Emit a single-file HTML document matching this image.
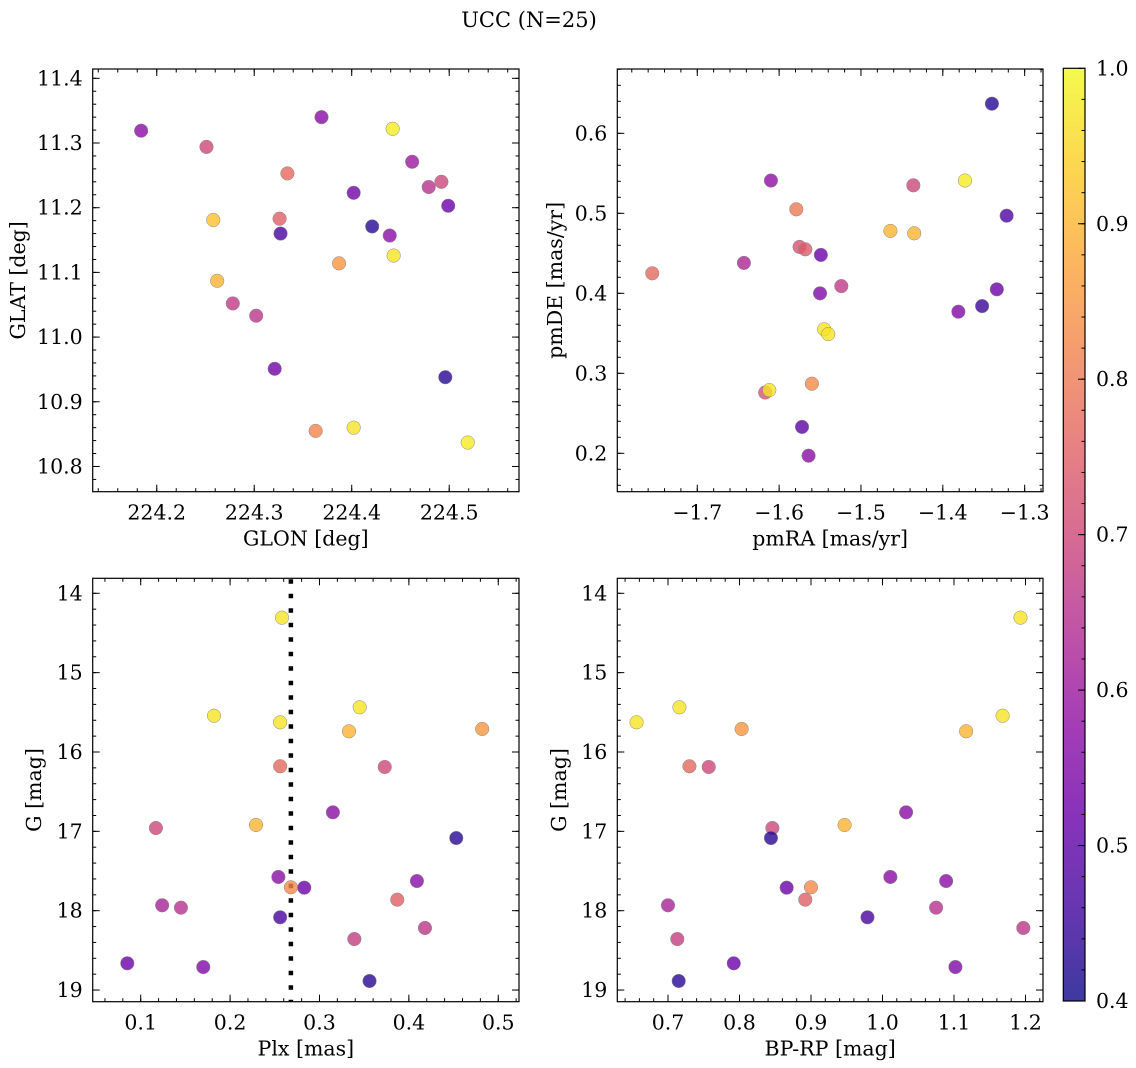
<!DOCTYPE html>
<html><head><meta charset="utf-8"><style>
html,body{margin:0;padding:0;background:#fff;}
svg{display:block;font-family:"DejaVu Serif","Liberation Serif",serif;}
</style></head><body>
<svg id="fig" width="1136" height="1068" viewBox="0 0 1136 1068" xmlns="http://www.w3.org/2000/svg">
<defs>
<linearGradient id="plasmaGrad" x1="0" y1="1" x2="0" y2="0">
<stop offset="0" stop-color="#0d0887"/><stop offset="0.1" stop-color="#41049d"/><stop offset="0.2" stop-color="#6a00a8"/><stop offset="0.3" stop-color="#8f0da4"/><stop offset="0.4" stop-color="#b12a90"/><stop offset="0.5" stop-color="#cc4778"/><stop offset="0.6" stop-color="#e16462"/><stop offset="0.7" stop-color="#f2844b"/><stop offset="0.8" stop-color="#fca636"/><stop offset="0.9" stop-color="#fcce25"/><stop offset="1" stop-color="#f0f921"/>
</linearGradient>
</defs>
<text x="529" y="27" font-size="21" text-anchor="middle">UCC (N=25)</text>
</svg>
<script>
// ---- Data ----
const glon = [224.184,224.251,224.369,224.442,224.462,224.334,224.492,224.479,224.402,224.499,224.258,224.326,224.327,224.421,224.439,224.387,224.443,224.262,224.278,224.302,224.321,224.496,224.363,224.402,224.519];
const glat = [11.319,11.294,11.340,11.322,11.271,11.253,11.240,11.232,11.223,11.203,11.181,11.183,11.160,11.171,11.157,11.114,11.126,11.087,11.052,11.033,10.951,10.938,10.855,10.860,10.837];
const colGal = [0.57,0.70,0.57,0.98,0.60,0.77,0.70,0.65,0.53,0.52,0.92,0.75,0.47,0.43,0.57,0.85,0.97,0.90,0.67,0.66,0.53,0.43,0.82,0.97,0.98];

const pmra = [-1.340,-1.610,-1.436,-1.373,-1.579,-1.322,-1.464,-1.435,-1.575,-1.568,-1.549,-1.643,-1.755,-1.524,-1.550,-1.334,-1.352,-1.381,-1.545,-1.540,-1.560,-1.617,-1.612,-1.572,-1.564];
const pmde = [0.637,0.541,0.535,0.541,0.505,0.497,0.478,0.475,0.458,0.455,0.448,0.438,0.425,0.409,0.400,0.405,0.384,0.377,0.355,0.349,0.287,0.276,0.279,0.233,0.197];
const colPm = [0.43,0.58,0.70,0.98,0.80,0.48,0.90,0.90,0.72,0.74,0.52,0.63,0.77,0.67,0.55,0.52,0.45,0.55,0.97,0.97,0.83,0.72,0.97,0.50,0.57];

const plx = [0.258,0.182,0.256,0.345,0.333,0.482,0.256,0.373,0.315,0.117,0.229,0.453,0.254,0.268,0.283,0.409,0.124,0.145,0.387,0.256,0.418,0.339,0.085,0.170,0.356];
const gPlx = [14.307,15.543,15.626,15.437,15.739,15.710,16.180,16.189,16.760,16.958,16.920,17.084,17.575,17.705,17.710,17.626,17.932,17.962,17.861,18.083,18.218,18.357,18.663,18.710,18.886];
const colPlx = [0.97,0.97,0.97,0.97,0.90,0.85,0.77,0.70,0.57,0.70,0.90,0.43,0.57,0.83,0.52,0.57,0.62,0.65,0.75,0.47,0.66,0.68,0.52,0.55,0.43];
const plxLine = [0.268];

const bprp = [1.193,0.656,0.716,0.803,1.168,1.117,0.730,0.757,1.033,0.846,0.947,0.844,1.011,0.866,0.900,1.089,0.700,1.075,0.892,0.979,1.197,0.713,0.792,1.102,0.715];
const gCmd = [14.307,15.626,15.437,15.710,15.543,15.739,16.180,16.189,16.760,16.958,16.920,17.084,17.575,17.710,17.705,17.626,17.932,17.962,17.861,18.083,18.218,18.357,18.663,18.710,18.886];
const colCmd = [0.97,0.97,0.97,0.85,0.97,0.90,0.77,0.70,0.57,0.70,0.90,0.43,0.57,0.52,0.83,0.57,0.62,0.65,0.75,0.47,0.66,0.68,0.52,0.55,0.43];

const xTicks1 = ["224.2","224.3","224.4","224.5"];
const yTicks1 = ["10.8","10.9","11.0","11.1","11.2","11.3","11.4"];
const xTicks2 = ["\u22121.7","\u22121.6","\u22121.5","\u22121.4","\u22121.3"];
const yTicks2 = ["0.2","0.3","0.4","0.5","0.6"];
const xTicks3 = ["0.1","0.2","0.3","0.4","0.5"];
const yTicksG = ["14","15","16","17","18","19"];
const xTicks4 = ["0.7","0.8","0.9","1.0","1.1","1.2"];
const cbTicks = ["0.4","0.5","0.6","0.7","0.8","0.9","1.0"];

// ---- Helpers ----
const NS = "http://www.w3.org/2000/svg";
const svg = document.getElementById('fig');
const FS = 20.5;
function mk(tag, attrs, parent){ const e=document.createElementNS(NS,tag); for(const k in attrs) e.setAttribute(k,attrs[k]); (parent||svg).appendChild(e); return e; }
const stops=[[13,8,135],[65,4,157],[106,0,168],[143,13,164],[177,42,144],[204,71,120],[225,100,98],[242,132,75],[252,166,54],[252,206,37],[240,249,33]];
function plasma(t){ t=Math.max(0,Math.min(1,t)); const f=t*10; const i=Math.min(9,Math.floor(f)); const r=f-i; const a=stops[i],b=stops[i+1];
  return 'rgb('+a.map((v,k)=>Math.round(v+(b[k]-v)*r)).join(',')+')'; }
const VMIN=0.4, VMAX=1.0;

function panel(cfg){
  const g = mk('g',{});
  
  
  const {x0,x1,y0,y1,xmin,xmax,ymin,ymax,invY} = cfg;
  const sx = v => x0 + (v-xmin)/(xmax-xmin)*(x1-x0);
  const sy = v => invY ? y0 + (v-ymin)/(ymax-ymin)*(y1-y0) : y1 - (v-ymin)/(ymax-ymin)*(y1-y0);
  const tg = mk('g',{stroke:'#000','stroke-width':1},g);
  function ticksX(start,step,n,len){ for(let i=0;i<n;i++){ const v=start+i*step; if(v<xmin-1e-9||v>xmax+1e-9) continue; const x=sx(v);
      mk('line',{x1:x,x2:x,y1:y1,y2:y1-len},tg); mk('line',{x1:x,x2:x,y1:y0,y2:y0+len},tg);} }
  function ticksY(start,step,n,len){ for(let i=0;i<n;i++){ const v=start+i*step; if(v<Math.min(ymin,ymax)-1e-9||v>Math.max(ymin,ymax)+1e-9) continue; const y=sy(v);
      mk('line',{x1:x0,x2:x0+len,y1:y,y2:y},tg); mk('line',{x1:x1,x2:x1-len,y1:y,y2:y},tg);} }
  ticksX(cfg.xMinorStart,cfg.xMinor,200,3.5);
  ticksY(cfg.yMinorStart,cfg.yMinor,200,3.5);
  cfg.xLabels.forEach((lab,i)=>{ const v=cfg.xMajorStart+i*cfg.xMajor; const x=sx(v);
    mk('line',{x1:x,x2:x,y1:y1,y2:y1-7},tg); mk('line',{x1:x,x2:x,y1:y0,y2:y0+7},tg);
    const t=mk('text',{x:x,y:y1+28,'font-size':FS,'text-anchor':'middle'},g); t.textContent=lab;
      });
  cfg.yLabels.forEach((lab,i)=>{ const v=cfg.yMajorStart+i*cfg.yMajor; const y=sy(v);
    mk('line',{x1:x0,x2:x0+7,y1:y,y2:y},tg); mk('line',{x1:x1,x2:x1-7,y1:y,y2:y},tg);
    const t=mk('text',{x:x0-10,y:y+7,'font-size':FS,'text-anchor':'end'},g); t.textContent=lab;
      });
  if(cfg.vline){ cfg.vline.forEach(v=>{ const l=mk('line',{x1:sx(v),x2:sx(v),y1:y0+1,y2:y1,stroke:'#000','stroke-width':4.5,'stroke-dasharray':'4.5 10'},g);
      }); }
  cfg.xs.forEach((xv,i)=>{ const c=mk('circle',{cx:sx(xv),cy:sy(cfg.ys[i]),r:6.8,fill:plasma((cfg.cs[i]-VMIN)/(VMAX-VMIN)),'fill-opacity':0.8,stroke:'#888','stroke-width':0.5},g);
      });
  const f=mk('rect',{x:x0,y:y0,width:x1-x0,height:y1-y0,fill:'none',stroke:'#000','stroke-width':1.2},g);
   
  const xl=mk('text',{x:(x0+x1)/2,y:y1+54,'font-size':FS,'text-anchor':'middle'},g); xl.textContent=cfg.xTitle;
   
  const yl=mk('text',{x:cfg.yTitleX,y:(y0+y1)/2,'font-size':FS,'text-anchor':'middle',transform:'rotate(-90 '+cfg.yTitleX+' '+(y0+y1)/2+')'},g); yl.textContent=cfg.yTitle;
   
}

panel({name:'glon-glat-panel',x0:92.7,x1:519,y0:69,y1:491.7,xmin:224.1343,xmax:224.5716,ymin:10.761,ymax:11.4144,invY:false,
  xMajorStart:224.2,xMajor:0.1,xMinorStart:224.14,xMinor:0.02,yMajorStart:10.8,yMajor:0.1,yMinorStart:10.76,yMinor:0.02,
  xLabels:xTicks1,yLabels:yTicks1,xs:glon,ys:glat,cs:colGal,xTitle:'GLON [deg]',yTitle:'GLAT [deg]',yTitleX:25});
panel({name:'pm-panel',x0:617.3,x1:1043,y0:69,y1:491.7,xmin:-1.7977,xmax:-1.2776,ymin:0.152,ymax:0.6804,invY:false,
  xMajorStart:-1.7,xMajor:0.1,xMinorStart:-1.78,xMinor:0.02,yMajorStart:0.2,yMajor:0.1,yMinorStart:0.16,yMinor:0.02,
  xLabels:xTicks2,yLabels:yTicks2,xs:pmra,ys:pmde,cs:colPm,xTitle:'pmRA [mas/yr]',yTitle:'pmDE [mas/yr]',yTitleX:562});
panel({name:'plx-g-panel',x0:92.7,x1:519,y0:578.3,y1:1001.7,xmin:0.0463,xmax:0.5232,ymin:13.811,ymax:19.147,invY:true,
  xMajorStart:0.1,xMajor:0.1,xMinorStart:0.06,xMinor:0.02,yMajorStart:14,yMajor:1,yMinorStart:13.8,yMinor:0.2,
  xLabels:xTicks3,yLabels:yTicksG,xs:plx,ys:gPlx,cs:colPlx,vline:plxLine,xTitle:'Plx [mas]',yTitle:'G [mag]',yTitleX:41});
panel({name:'cmd-panel',x0:617.3,x1:1043,y0:578.3,y1:1001.7,xmin:0.6291,xmax:1.2245,ymin:13.811,ymax:19.147,invY:true,
  xMajorStart:0.7,xMajor:0.1,xMinorStart:0.64,xMinor:0.02,yMajorStart:14,yMajor:1,yMinorStart:13.8,yMinor:0.2,
  xLabels:xTicks4,yLabels:yTicksG,xs:bprp,ys:gCmd,cs:colCmd,xTitle:'BP-RP [mag]',yTitle:'G [mag]',yTitleX:566});

// ---- Colorbar ----
(function(){
  const cb=mk('g',{});
  
  
  const cx0=1063.3,cx1=1085,cy0=68.3,cy1=1001;
  const sy=v=>cy1-(v-VMIN)/(VMAX-VMIN)*(cy1-cy0);
  mk('rect',{x:cx0,y:cy0,width:cx1-cx0,height:cy1-cy0,fill:'url(#plasmaGrad)','fill-opacity':0.8},cb);
  for(let v=0.42;v<1.0-1e-9;v+=0.02){ const y=sy(v); mk('line',{x1:cx1,x2:cx1-3.5,y1:y,y2:y,stroke:'#000','stroke-width':1},cb); }
  cbTicks.forEach(lab=>{ const y=sy(parseFloat(lab)); mk('line',{x1:cx1,x2:cx1-7,y1:y,y2:y,stroke:'#000','stroke-width':1},cb);
    const t=mk('text',{x:cx1+11,y:y+7,'font-size':FS},cb); t.textContent=lab;
      });
  mk('rect',{x:cx0,y:cy0,width:cx1-cx0,height:cy1-cy0,fill:'none',stroke:'#000','stroke-width':1.2},cb);
})();
</script>
</body></html>
